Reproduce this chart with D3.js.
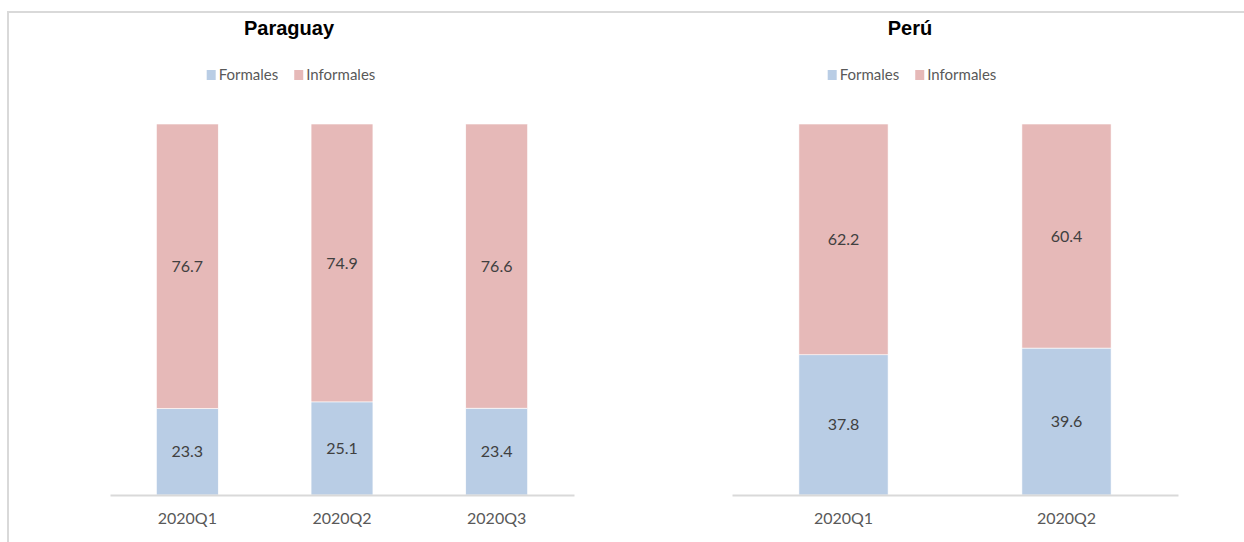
<!DOCTYPE html>
<html>
<head>
<meta charset="utf-8">
<script src="https://cdn.jsdelivr.net/npm/d3@7"></script>
<style>
  html, body { margin: 0; padding: 0; background: #fff; }
  svg { display: block; }
</style>
</head>
<body>
<svg id="chart" width="1244" height="542"></svg>
<script>
// ---- Data ----
const seriesNames = ["Formales", "Informales"];
const seriesColors = ["#b9cde5", "#e6b9b8"];

const paraguayCategories = ["2020Q1", "2020Q2", "2020Q3"];
const paraguayFormales = [23.3, 25.1, 23.4];
const paraguayInformales = [76.7, 74.9, 76.6];

const peruCategories = ["2020Q1", "2020Q2"];
const peruFormales = [37.8, 39.6];
const peruInformales = [62.2, 60.4];

// ---- Layout ----
const svg = d3.select("#chart");
const W = 1244, H = 542;

// frame (light gray top & left border)
svg.append("path")
  .attr("d", `M8,542 V12 H1244`)
  .attr("fill", "none")
  .attr("stroke", "#d9d9d9")
  .attr("stroke-width", 2);

const panels = [
  { title: "Paraguay", cats: paraguayCategories, f: paraguayFormales, inf: paraguayInformales,
    x0: 110, x1: 574, titleX: 289, legendX: 291 },
  { title: "Perú", cats: peruCategories, f: peruFormales, inf: peruInformales,
    x0: 732, x1: 1178, titleX: 910, legendX: 912 }
];

const y = d3.scaleLinear().domain([0, 100]).range([495, 124]);

panels.forEach(p => {
  const g = svg.append("g");
  const x = d3.scaleBand().domain(p.cats).range([p.x0, p.x1]).paddingInner(0.6).paddingOuter(0.3);

  const rows = p.cats.map((c, i) => ({ cat: c, Formales: p.f[i], Informales: p.inf[i] }));
  const stacked = d3.stack().keys(seriesNames)(rows);

  // title
  g.append("text")
    .attr("x", p.titleX).attr("y", 35)
    .attr("text-anchor", "middle")
    .attr("font-family", "'Liberation Sans', Arial, sans-serif")
    .attr("font-weight", "bold")
    .attr("font-size", 20)
    .attr("fill", "#000")
    .text(p.title);

  // legend
  const lg = g.append("g");
  const items = lg.selectAll("g").data(seriesNames).join("g");
  items.append("rect").attr("width", 9).attr("height", 10).attr("y", -5)
    .attr("fill", (d, i) => seriesColors[i]);
  items.append("text").attr("x", 12).attr("y", 0).attr("dy", "0.35em")
    .attr("font-family", "Lato, 'Open Sans', sans-serif")
    .attr("font-size", 15)
    .attr("fill", "#595959")
    .text(d => d);
  let off = 0;
  items.each(function() {
    const w = this.getBBox().width;
    d3.select(this).attr("data-w", w);
  });
  const widths = items.nodes().map(n => n.getBBox().width);
  const gap = 16;
  const total = d3.sum(widths) + gap * (widths.length - 1);
  items.attr("transform", (d, i) => {
    const tx = off; off += widths[i] + gap;
    return `translate(${tx},0)`;
  });
  lg.attr("transform", `translate(${p.legendX - total / 2},75)`);

  // bars
  const layers = g.selectAll("g.layer").data(stacked).join("g")
    .attr("class", "layer")
    .attr("fill", (d, i) => seriesColors[i]);
  layers.selectAll("rect").data(d => d).join("rect")
    .attr("x", d => x(d.data.cat))
    .attr("width", x.bandwidth())
    .attr("y", d => y(d[1]))
    .attr("height", d => y(d[0]) - y(d[1]))
    .attr("stroke", "#fff")
    .attr("stroke-width", 0.6);

  // value labels
  layers.selectAll("text").data(d => d).join("text")
    .attr("x", d => x(d.data.cat) + x.bandwidth() / 2)
    .attr("y", d => (y(d[0]) + y(d[1])) / 2)
    .attr("dy", "0.35em")
    .attr("text-anchor", "middle")
    .attr("font-family", "Lato, 'Open Sans', sans-serif")
    .attr("font-size", 16)
    .attr("fill", "#404040")
    .text(d => d3.format(".1f")(d[1] - d[0]));

  // x axis
  const axis = g.append("g").attr("transform", "translate(0,495)")
    .call(d3.axisBottom(x).tickSize(0).tickPadding(18));
  axis.select(".domain").attr("stroke", "#d9d9d9").attr("stroke-width", 2);
  axis.selectAll("text")
    .attr("font-family", "Lato, 'Open Sans', sans-serif")
    .attr("font-size", 16)
    .attr("fill", "#595959");
});
</script>
</body>
</html>
